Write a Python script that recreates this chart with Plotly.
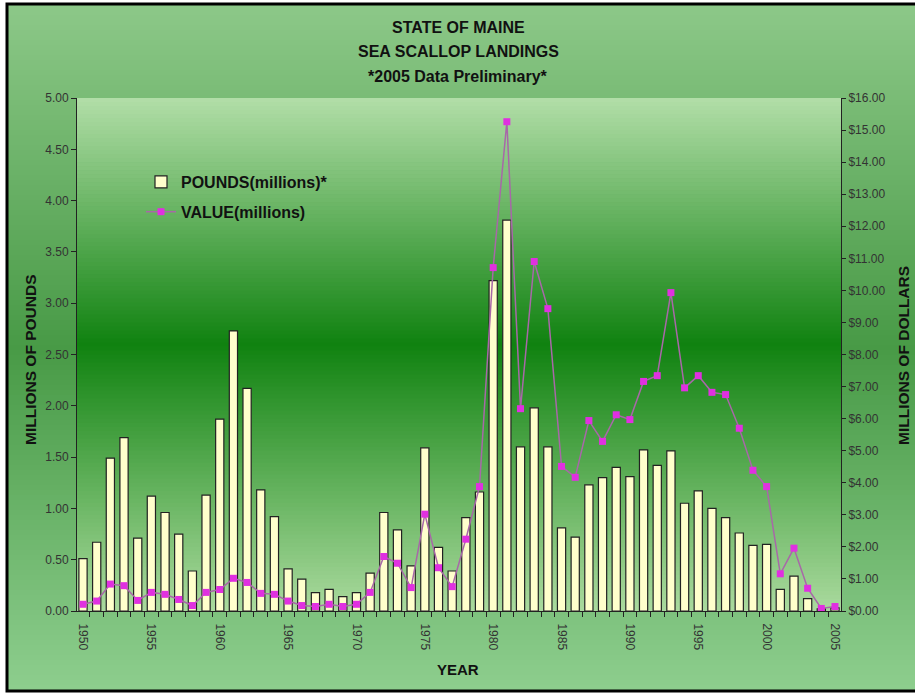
import plotly.graph_objects as go

# Maine sea scallop landings, 1950-2005
years = list(range(1950, 2006))
pounds_millions = [
    0.51, 0.67, 1.49, 1.69, 0.71, 1.12, 0.96, 0.75, 0.39, 1.13,
    1.87, 2.73, 2.17, 1.18, 0.92, 0.41, 0.31, 0.18, 0.21, 0.14,
    0.18, 0.37, 0.96, 0.79, 0.44, 1.59, 0.62, 0.39, 0.91, 1.16,
    3.22, 3.81, 1.60, 1.98, 1.60, 0.81, 0.72, 1.23, 1.30, 1.40,
    1.31, 1.57, 1.42, 1.56, 1.05, 1.17, 1.00, 0.91, 0.76, 0.64,
    0.65, 0.21, 0.34, 0.12, 0.02, 0.03,
]
value_millions = [
    0.21, 0.31, 0.84, 0.79, 0.33, 0.58, 0.52, 0.36, 0.17, 0.58,
    0.67, 1.02, 0.89, 0.55, 0.52, 0.31, 0.17, 0.14, 0.21, 0.14,
    0.21, 0.58, 1.70, 1.49, 0.73, 3.02, 1.35, 0.76, 2.24, 3.88,
    10.71, 15.26, 6.31, 10.90, 9.43, 4.51, 4.17, 5.94, 5.29, 6.12,
    5.97, 7.16, 7.34, 9.93, 6.96, 7.34, 6.82, 6.75, 5.70, 4.39,
    3.88, 1.16, 1.96, 0.71, 0.08, 0.14,
]
year_ticks = list(range(1950, 2006, 5))
title_lines = ["STATE OF MAINE", "SEA SCALLOP LANDINGS", "*2005 Data Preliminary*"]

W, H = 915, 694
L, R, T, B = 77, 841, 98, 611
FONT = "Liberation Sans, Arial, sans-serif"


def px_x(px):
    return (px - L) / (R - L)


def px_y(py):
    return (B - py) / (B - T)


def lerp_color(stops, f):
    for (f0, c0), (f1, c1) in zip(stops, stops[1:]):
        if f0 <= f <= f1:
            t = 0 if f1 == f0 else (f - f0) / (f1 - f0)
            c = [round(a + (b - a) * t) for a, b in zip(c0, c1)]
            return "rgb(%d,%d,%d)" % tuple(c)
    return "rgb(%d,%d,%d)" % tuple(stops[-1][1])


def bands(x0, x1, y0, y1, stops, n):
    out = []
    for i in range(n):
        ya = y0 + (y1 - y0) * i / n
        yb = y0 + (y1 - y0) * (i + 1) / n + 0.6
        col = lerp_color(stops, (i + 0.5) / n)
        out.append(dict(type="rect", xref="paper", yref="paper",
                        x0=px_x(x0), x1=px_x(x1), y0=px_y(ya), y1=px_y(min(yb, y1)),
                        fillcolor=col, line=dict(width=0), layer="below"))
    return out


# chart-area and plot-area vertical gradients (top -> bottom)
outer_stops = [(0.0, (140, 200, 136)), (0.5, (72, 154, 70)), (1.0, (142, 206, 142))]
plot_stops = [(0.0, (178, 222, 168)), (0.48, (16, 130, 16)), (1.0, (170, 218, 158))]

shapes = []
shapes += bands(7, 918, 5, 690, outer_stops, 137)
shapes += bands(L, R, T, B, plot_stops, 128)
shapes.append(dict(type="rect", xref="paper", yref="paper",
                   x0=px_x(7), x1=px_x(920), y0=px_y(4), y1=px_y(691),
                   line=dict(color="#000000", width=3), fillcolor="rgba(0,0,0,0)",
                   layer="above"))

fig = go.Figure()
fig.add_trace(go.Bar(
    x=years, y=pounds_millions, name="POUNDS(millions)*",
    width=0.6, marker=dict(color="#ffffcc", line=dict(color="#222222", width=1.2)),
    legendgroup="a", yaxis="y",
))
fig.add_trace(go.Scatter(
    x=years, y=value_millions, name="VALUE(millions)", mode="lines+markers",
    line=dict(color="#a868a8", width=1.5),
    marker=dict(symbol="square", size=7, color="#e030e0"),
    legendgroup="b", yaxis="y2",
))

annotations = []
for i, t in enumerate(title_lines):
    annotations.append(dict(text="<b>%s</b>" % t, xref="paper", yref="paper",
                            x=px_x(458), y=px_y(27 + 25 * i), showarrow=False,
                            xanchor="center", yanchor="middle",
                            font=dict(family=FONT, size=16, color="#111111")))
annotations.append(dict(text="<b>MILLIONS OF POUNDS</b>", xref="paper", yref="paper",
                        x=px_x(30), y=px_y(360), showarrow=False, textangle=-90,
                        xanchor="center", yanchor="middle",
                        font=dict(family=FONT, size=15.5, color="#111111")))
annotations.append(dict(text="<b>MILLIONS OF DOLLARS</b>", xref="paper", yref="paper",
                        x=px_x(903), y=px_y(356), showarrow=False, textangle=-90,
                        xanchor="center", yanchor="middle",
                        font=dict(family=FONT, size=15.5, color="#111111")))
annotations.append(dict(text="<b>YEAR</b>", xref="paper", yref="paper",
                        x=px_x(458), y=px_y(669), showarrow=False,
                        xanchor="center", yanchor="middle",
                        font=dict(family=FONT, size=15, color="#111111")))

tick_font = dict(family=FONT, size=12, color="#333333")

fig.update_layout(
    width=W, height=H,
    margin=dict(l=L, r=W - R, t=T, b=H - B, pad=0),
    paper_bgcolor="#ffffff", plot_bgcolor="rgba(0,0,0,0)",
    shapes=shapes, annotations=annotations,
    showlegend=True,
    legend=dict(x=px_x(141), y=px_y(165), xanchor="left", yanchor="top",
                bgcolor="rgba(0,0,0,0)", borderwidth=0,
                font=dict(family=FONT, size=16, color="#111111", weight="bold"),
                tracegroupgap=6, traceorder="grouped"),
    bargap=0.4,
    xaxis=dict(range=[1949.56, 2005.44], tickvals=year_ticks, tickangle=90,
               ticks="outside", ticklen=9, tickcolor="rgba(0,0,0,0)",
               minor=dict(ticks="outside", tick0=1949.5, dtick=1, ticklen=5,
                          tickcolor="#222222", tickwidth=1, showgrid=False),
               showline=True, linecolor="#222222", linewidth=1,
               showgrid=False, zeroline=False, tickfont=tick_font),
    yaxis=dict(range=[0, 5], dtick=0.5, tickformat=".2f",
               ticks="outside", ticklen=5, tickcolor="#222222",
               showline=True, linecolor="#222222", linewidth=1,
               showgrid=False, zeroline=False, tickfont=tick_font),
    yaxis2=dict(range=[0, 16], dtick=1, tickformat=".2f", tickprefix="$",
                overlaying="y", side="right",
                ticks="outside", ticklen=4, tickcolor="#222222",
                showline=True, linecolor="#222222", linewidth=1,
                showgrid=False, zeroline=False, tickfont=tick_font),
)

fig.write_html("out.html")
